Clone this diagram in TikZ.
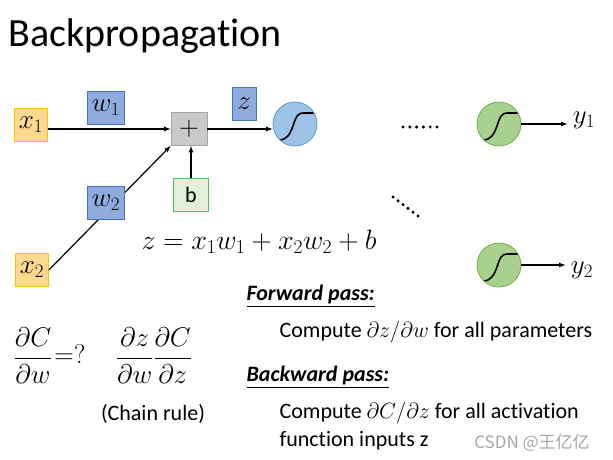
\RequirePackage{fix-cm}
\documentclass[tikz,border=0pt]{standalone}
\usepackage{amsmath,amssymb}
\usepackage{fontspec}
\setmainfont{Carlito}[Ligatures=NoCommon]
\newfontfamily\cjkfont{Noto Sans CJK SC}
\usepackage{tikz}
\usetikzlibrary{positioning, calc}
\usetikzlibrary{arrows}

\definecolor{infill}{HTML}{FFD98F}
\definecolor{inborder}{HTML}{FFC000}
\definecolor{wfill}{HTML}{8FAADC}
\definecolor{wborder}{HTML}{4472C4}
\definecolor{plusfill}{HTML}{C9C9C9}
\definecolor{plusborder}{HTML}{A5A5A5}
\definecolor{bfill}{HTML}{E2F0D9}
\definecolor{bborder}{HTML}{4DC16A}
\definecolor{neufill}{HTML}{9DC3E6}
\definecolor{neuborder}{HTML}{5B9BD5}
\definecolor{outfill}{HTML}{A9D18E}
\definecolor{outborder}{HTML}{70AD47}

\begin{document}
\begin{tikzpicture}[x=1pt,y=-1pt,>=latex,line width=1.2pt,
    every node/.style={inner sep=0pt},
    mathfont/.style={font=\fontsize{27}{30}\selectfont},
    txt/.style={font=\fontsize{22}{26}\selectfont},
    inbox/.style={draw=inborder,fill=infill,line width=0.8pt,minimum width=33pt,minimum height=33pt,mathfont},
    wbox/.style={draw=wborder,fill=wfill,line width=0.8pt,minimum width=37pt,minimum height=33pt,mathfont},
    plusbox/.style={draw=plusborder,fill=plusfill,line width=0.8pt,minimum width=36pt,minimum height=33pt,mathfont},
    bbox/.style={draw=bborder,fill=bfill,line width=0.8pt,minimum width=35pt,minimum height=33pt,txt},
    sigmoid/.style={circle,line width=0.8pt,minimum size=44pt,
        path picture={\draw[line width=1.6pt,black,shift={(path picture bounding box.center)}]
            (-16,16) .. controls (-8,16) and (-5,10) .. (-2,2) .. controls (1,-7) and (2,-11) .. (9,-11) -- (26,-11);}},
    neuron/.style={sigmoid,draw=neuborder,fill=neufill},
    outneuron/.style={sigmoid,draw=outborder,fill=outfill}]
    \useasboundingbox (0,0) rectangle (613,460);

    \node[anchor=base west, font=\fontsize{40}{44}\selectfont] (title) at (8,47) {Backpropagation};

    % one neuron
    \node[inbox] (x1) at (31,125) {$x_1$};
    \node[wbox] (w1) at (106,108) {$w_1$};
    \node[plusbox] (plus) at (189,129) {$+$};
    \node[wbox, minimum width=24pt] (z) at (244,104) {$z$};
    \node[neuron] (hid) at (295,124) {};
    \node[bbox] (b) at (191,195) {b};
    \node[inbox] (x2) at (32,270) {$x_2$};
    \draw[->] (x1.east |- plus.west) -- (plus.west);
    \draw[->] (b.north) -- (b.north |- plus.south);
    \draw[->] (x2.east) -- (plus.south west);
    \node[wbox] (w2) at (106,203) {$w_2$};
    \draw[->] (plus.east) -- (plus.east -| hid.west);

    % the dots
    \foreach \i in {0,...,5} {
        \fill (403+6.8*\i,127) circle (1.7);
        \fill ($(393,197)!\i/5!(418,216)$) circle (1.7);
    }

    % outputs
    \node[outneuron] (o1) at (499,124) {};
    \node[outneuron] (o2) at (499,265) {};
    \node[mathfont] (y1) at (584,120) {$y_1$};
    \node[mathfont] (y2) at (582,270) {$y_2$};
    \draw[->] (o1.east) -- ++(46,0);
    \draw[->] (o2.east) -- ++(44,0);

    \node[anchor=base, font=\fontsize{28}{32}\selectfont] (eq) at (259,249) {$z = x_1w_1 + x_2w_2 + b$};

    \node[txt, anchor=base west] (fwd) at (246,300) {\underline{\textbf{\textit{Forward pass:}}}};
    \node[txt, anchor=base west] (fwdtxt) at (279,337) {Compute $\partial z/\partial w$ for all parameters};
    \node[txt, anchor=base west] (bwd) at (246,381) {\underline{\textbf{\textit{Backward pass:}}}};
    \node[txt, anchor=base west] (bwdtxt) at (279,418) {Compute $\partial C/\partial z$ for all activation};
    \node[txt, anchor=base west] (bwdtxt2) at (279,446) {function inputs z};

    \node[mathfont] (dcdw) at (33,356) {$\dfrac{\partial C}{\partial w}$};
    \node[mathfont] (eqq) at (70,354) {$=?$};
    \node[mathfont] (chain) at (154,356) {$\dfrac{\partial z}{\partial w}\dfrac{\partial C}{\partial z}$};
    \node[txt] (chainlbl) at (153,414) {(Chain rule)};

    \node[anchor=base, font=\cjkfont\fontsize{17}{19}\selectfont, text=gray!70] (mark) at (532,448) {CSDN @王亿亿};
\end{tikzpicture}
\end{document}
